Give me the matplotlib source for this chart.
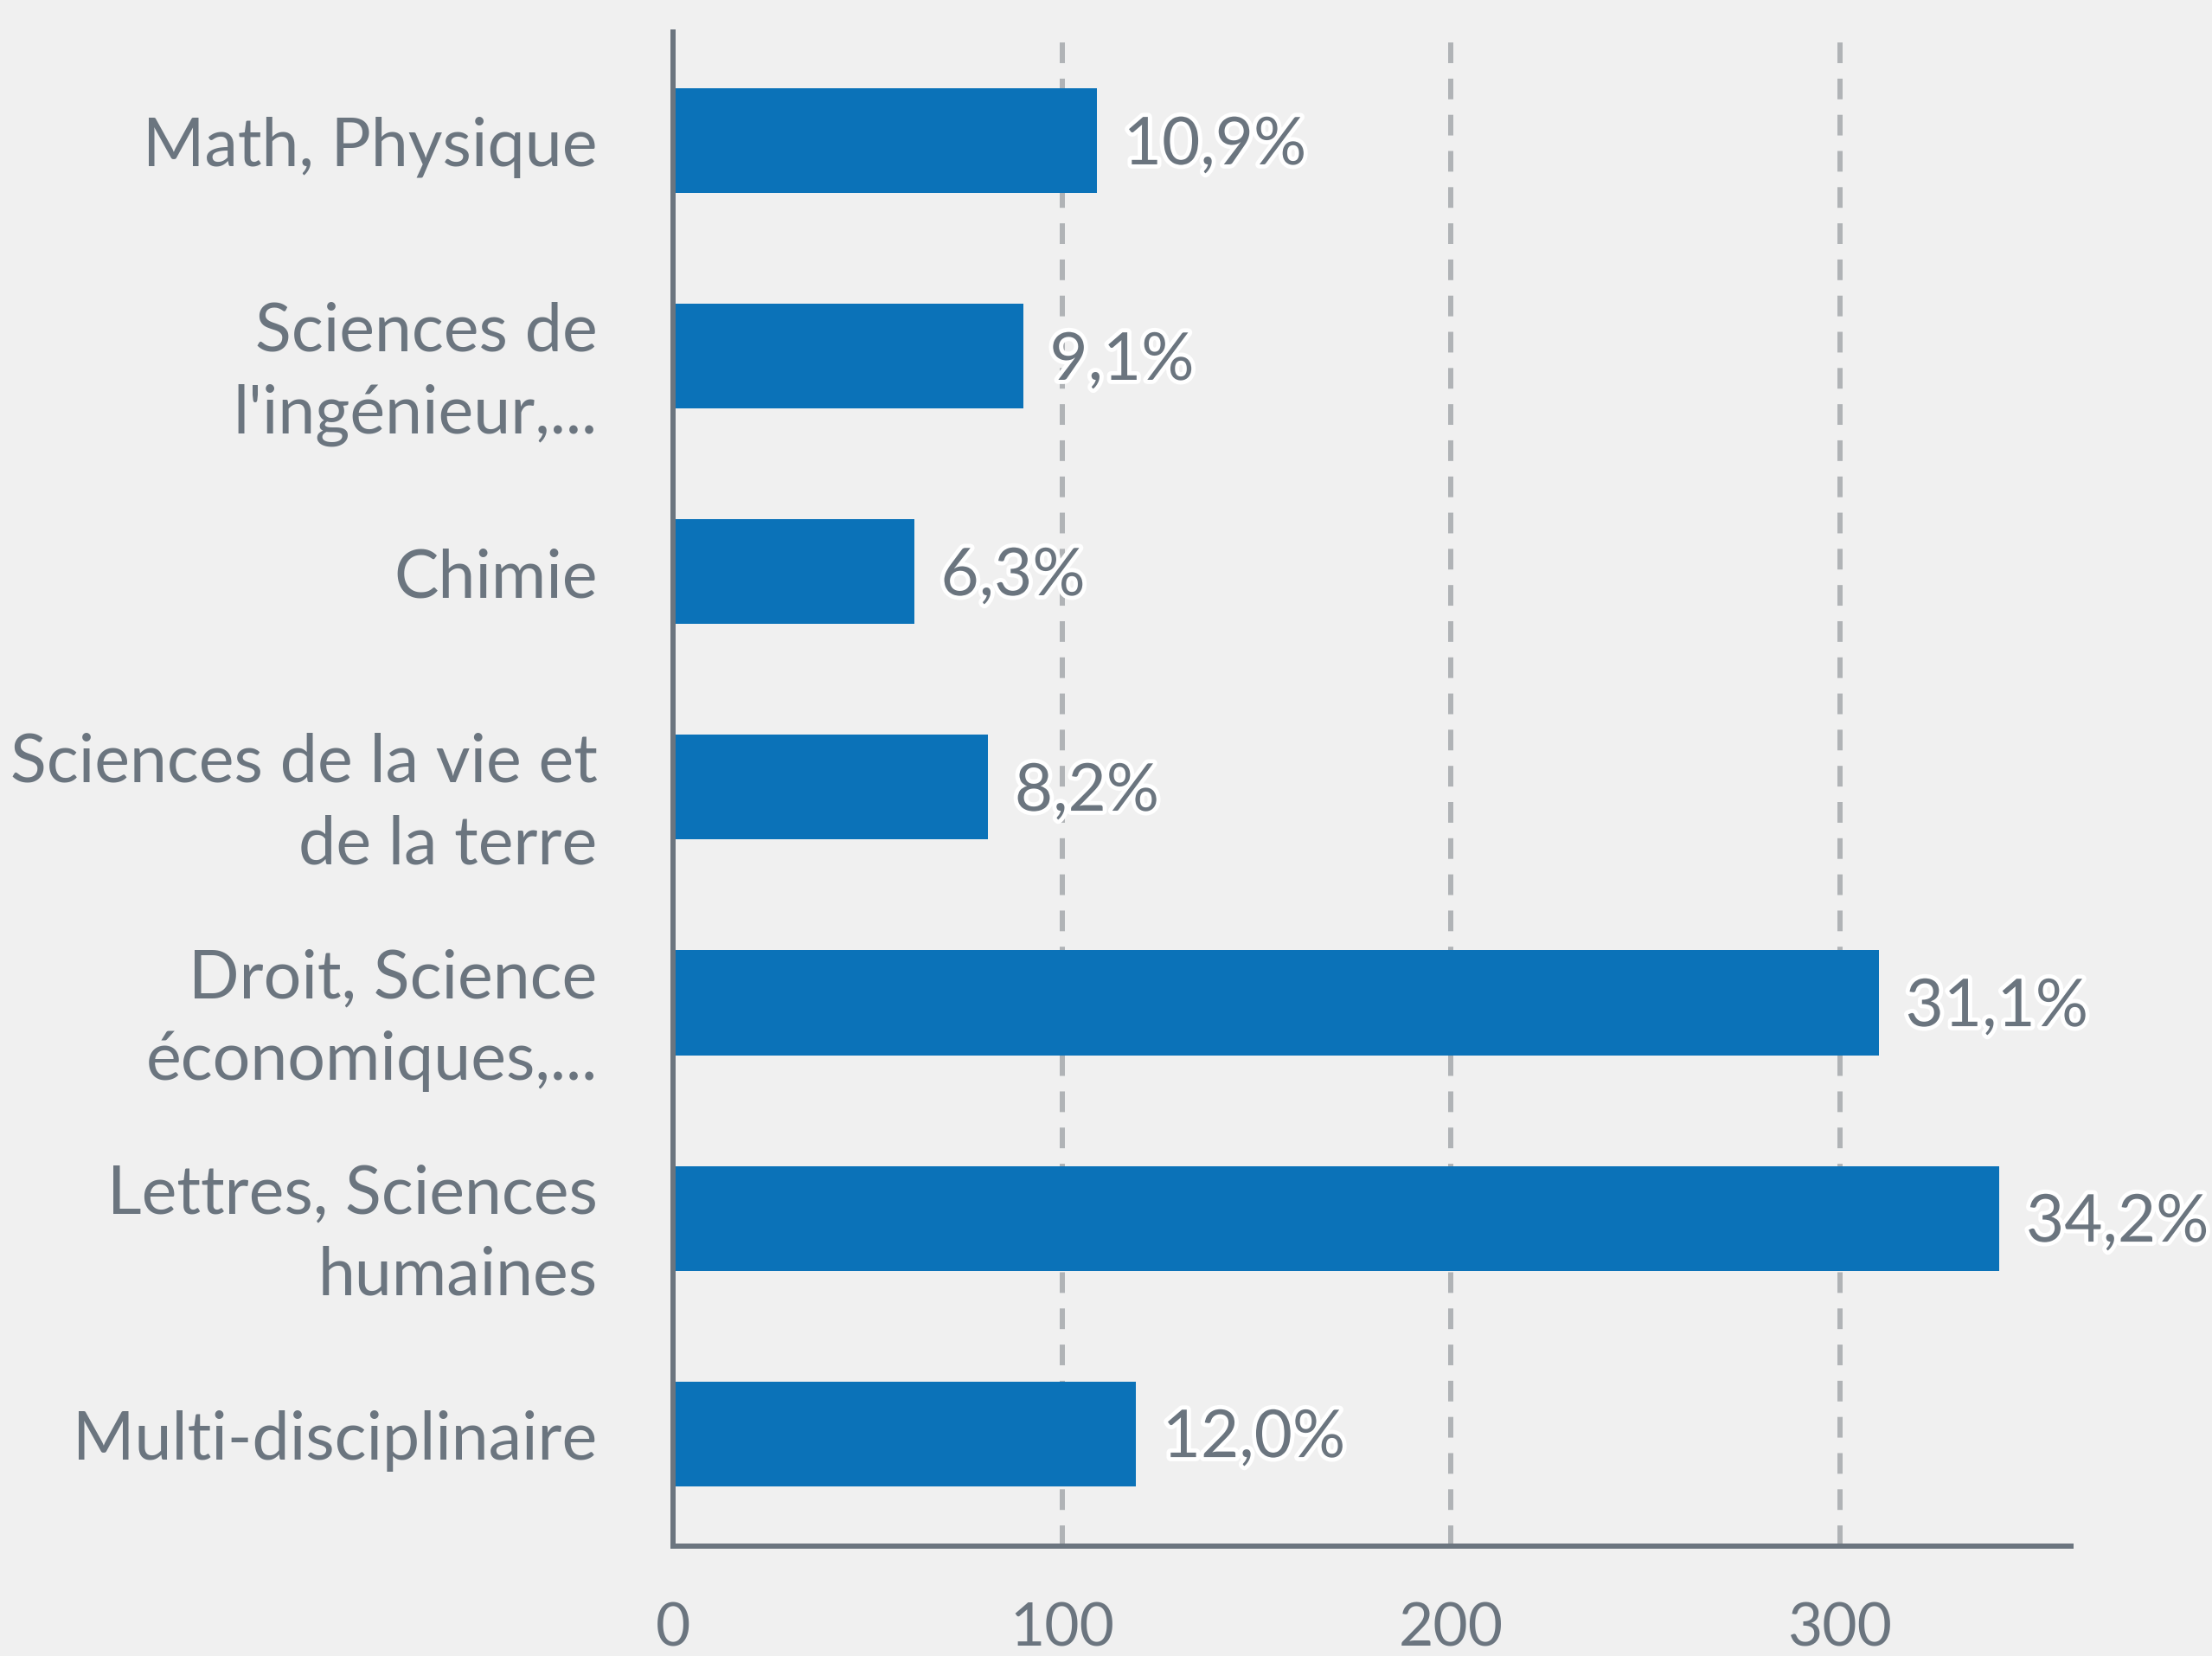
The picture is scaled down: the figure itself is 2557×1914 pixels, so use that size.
import matplotlib
matplotlib.use("Agg")
import matplotlib.pyplot as plt
import matplotlib.patheffects as pe

categories = [
    "Math, Physique",
    "Sciences de\nl'ingénieur,...",
    "Chimie",
    "Sciences de la vie et\nde la terre",
    "Droit, Science\néconomiques,...",
    "Lettres, Sciences\nhumaines",
    "Multi-disciplinaire",
]
counts = [109, 90, 62, 81, 310, 341, 119]
pct_labels = ["10,9%", "9,1%", "6,3%", "8,2%", "31,1%", "34,2%", "12,0%"]
xticks = [0, 100, 200, 300]

BG = "#f0f0f0"
BLUE = "#0b72b8"
GREY = "#6b757f"
GRID = "#b0b3b6"

plt.rcParams["font.family"] = ["Lato", "DejaVu Sans"]

fig = plt.figure(figsize=(25.57, 19.15), dpi=100, facecolor=BG)
ax = fig.add_axes([0.3043, 0.0663, 0.9363 - 0.3043, 0.9802 - 0.0663])
ax.set_facecolor(BG)

ypos = list(range(len(categories)))
ax.barh(ypos, counts, height=0.486, color=BLUE, zorder=3)

ax.set_xlim(0, 359.4)
ax.set_ylim(6.522, -0.506)

for x in xticks[1:]:
    ax.axvline(x, color=GRID, lw=4.3, linestyle=(0, (4.0, 3.0)), zorder=1)

stroke = [pe.withStroke(linewidth=7, foreground="white")]
for y, v, t in zip(ypos, counts, pct_labels):
    ax.annotate(t, (v, y), xytext=(22, -4), textcoords="offset points",
                ha="left", va="center", fontsize=55, color=GREY,
                path_effects=stroke, zorder=4)

ax.set_yticks(ypos)
ax.set_yticklabels(categories, fontsize=55.5, color=GREY, ha="right",
                   linespacing=1.42)
ax.set_xticks(xticks)
ax.set_xticklabels([str(x) for x in xticks], fontsize=50, color=GREY)
ax.tick_params(axis="y", length=0, pad=63)
ax.tick_params(axis="x", length=0, pad=46)

for s in ["top", "right"]:
    ax.spines[s].set_visible(False)
for s in ["left", "bottom"]:
    ax.spines[s].set_color(GREY)
    ax.spines[s].set_linewidth(4.3)
    ax.spines[s].set_zorder(5)

fig.savefig("out.png", dpi=100, facecolor=BG)
